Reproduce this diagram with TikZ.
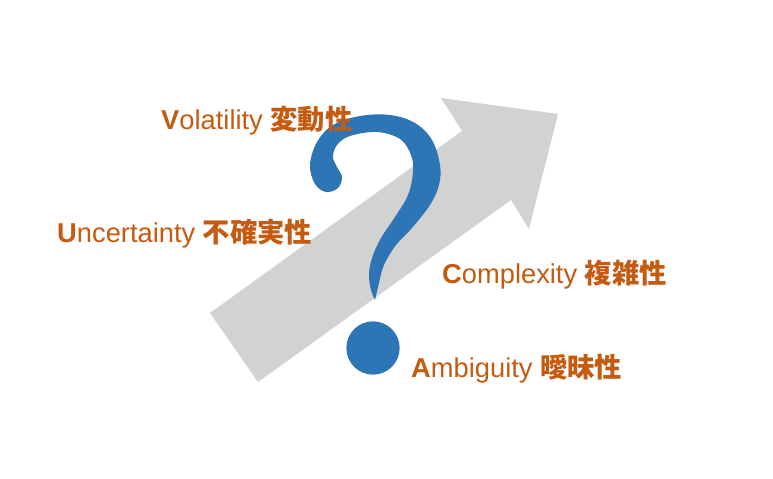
\documentclass[tikz,border=0pt]{standalone}
\usepackage{fontspec}
\setmainfont{Liberation Sans}
\newfontfamily\jpfont{Noto Sans CJK JP}
\definecolor{qblue}{RGB}{46,117,182}
\definecolor{arrowgray}{RGB}{210,210,210}
\definecolor{vucaorange}{RGB}{197,90,17}

\begin{document}
\begin{tikzpicture}[x=0.03cm,y=-0.03cm,
  vuca/.style={anchor=base west,inner sep=0pt,text=vucaorange,font=\fontsize{23.3}{26}\selectfont}]
\useasboundingbox (0,0) rectangle (773,479);
% big gray arrow
\coordinate (tailA) at (210,313);
\coordinate (tailB) at (258,382);
\coordinate (neckA) at (462,131);
\coordinate (neckB) at (511,200);
\coordinate (barbA) at (441,98);
\coordinate (barbB) at (529,229);
\coordinate (tip) at (558,114);
\fill [arrowgray] (tailA) -- (neckA) -- (barbA) -- (tip) -- (barbB) -- (neckB) -- (tailB) -- cycle;
% question mark
\fill [qblue] plot[smooth,tension=0.6] coordinates {(375,300) (379,283) (384,265) (396,245) (412,228) (430,205) (439,185) (440,165) (432,140) (415,123) (390,115) (360,116) (333,125) (317,142) (310,165) (315,184) (326,192) (338,188) (342,177) (337,167) (333,157) (337,145) (350,136) (377,132) (400,139) (411,155) (413,172) (408,195) (395,217) (381,238) (372,258) (369,275) (371,290) (375,300)} -- cycle;
\fill [qblue] (373,348) circle [radius=0.8cm];
% labels
\node [vuca] (vol) at (161,129) {\textbf{V}olatility {\jpfont\bfseries 変動性}};
\node [vuca] (unc) at (57,243) {\textbf{U}ncertainty {\jpfont\bfseries 不確実性}};
\node [vuca] (cpx) at (442,283) {\textbf{C}omplexity {\jpfont\bfseries 複雑性}};
\node [vuca] (amb) at (411,377) {\textbf{A}mbiguity {\jpfont\bfseries 曖昧性}};
\end{tikzpicture}
\end{document}
